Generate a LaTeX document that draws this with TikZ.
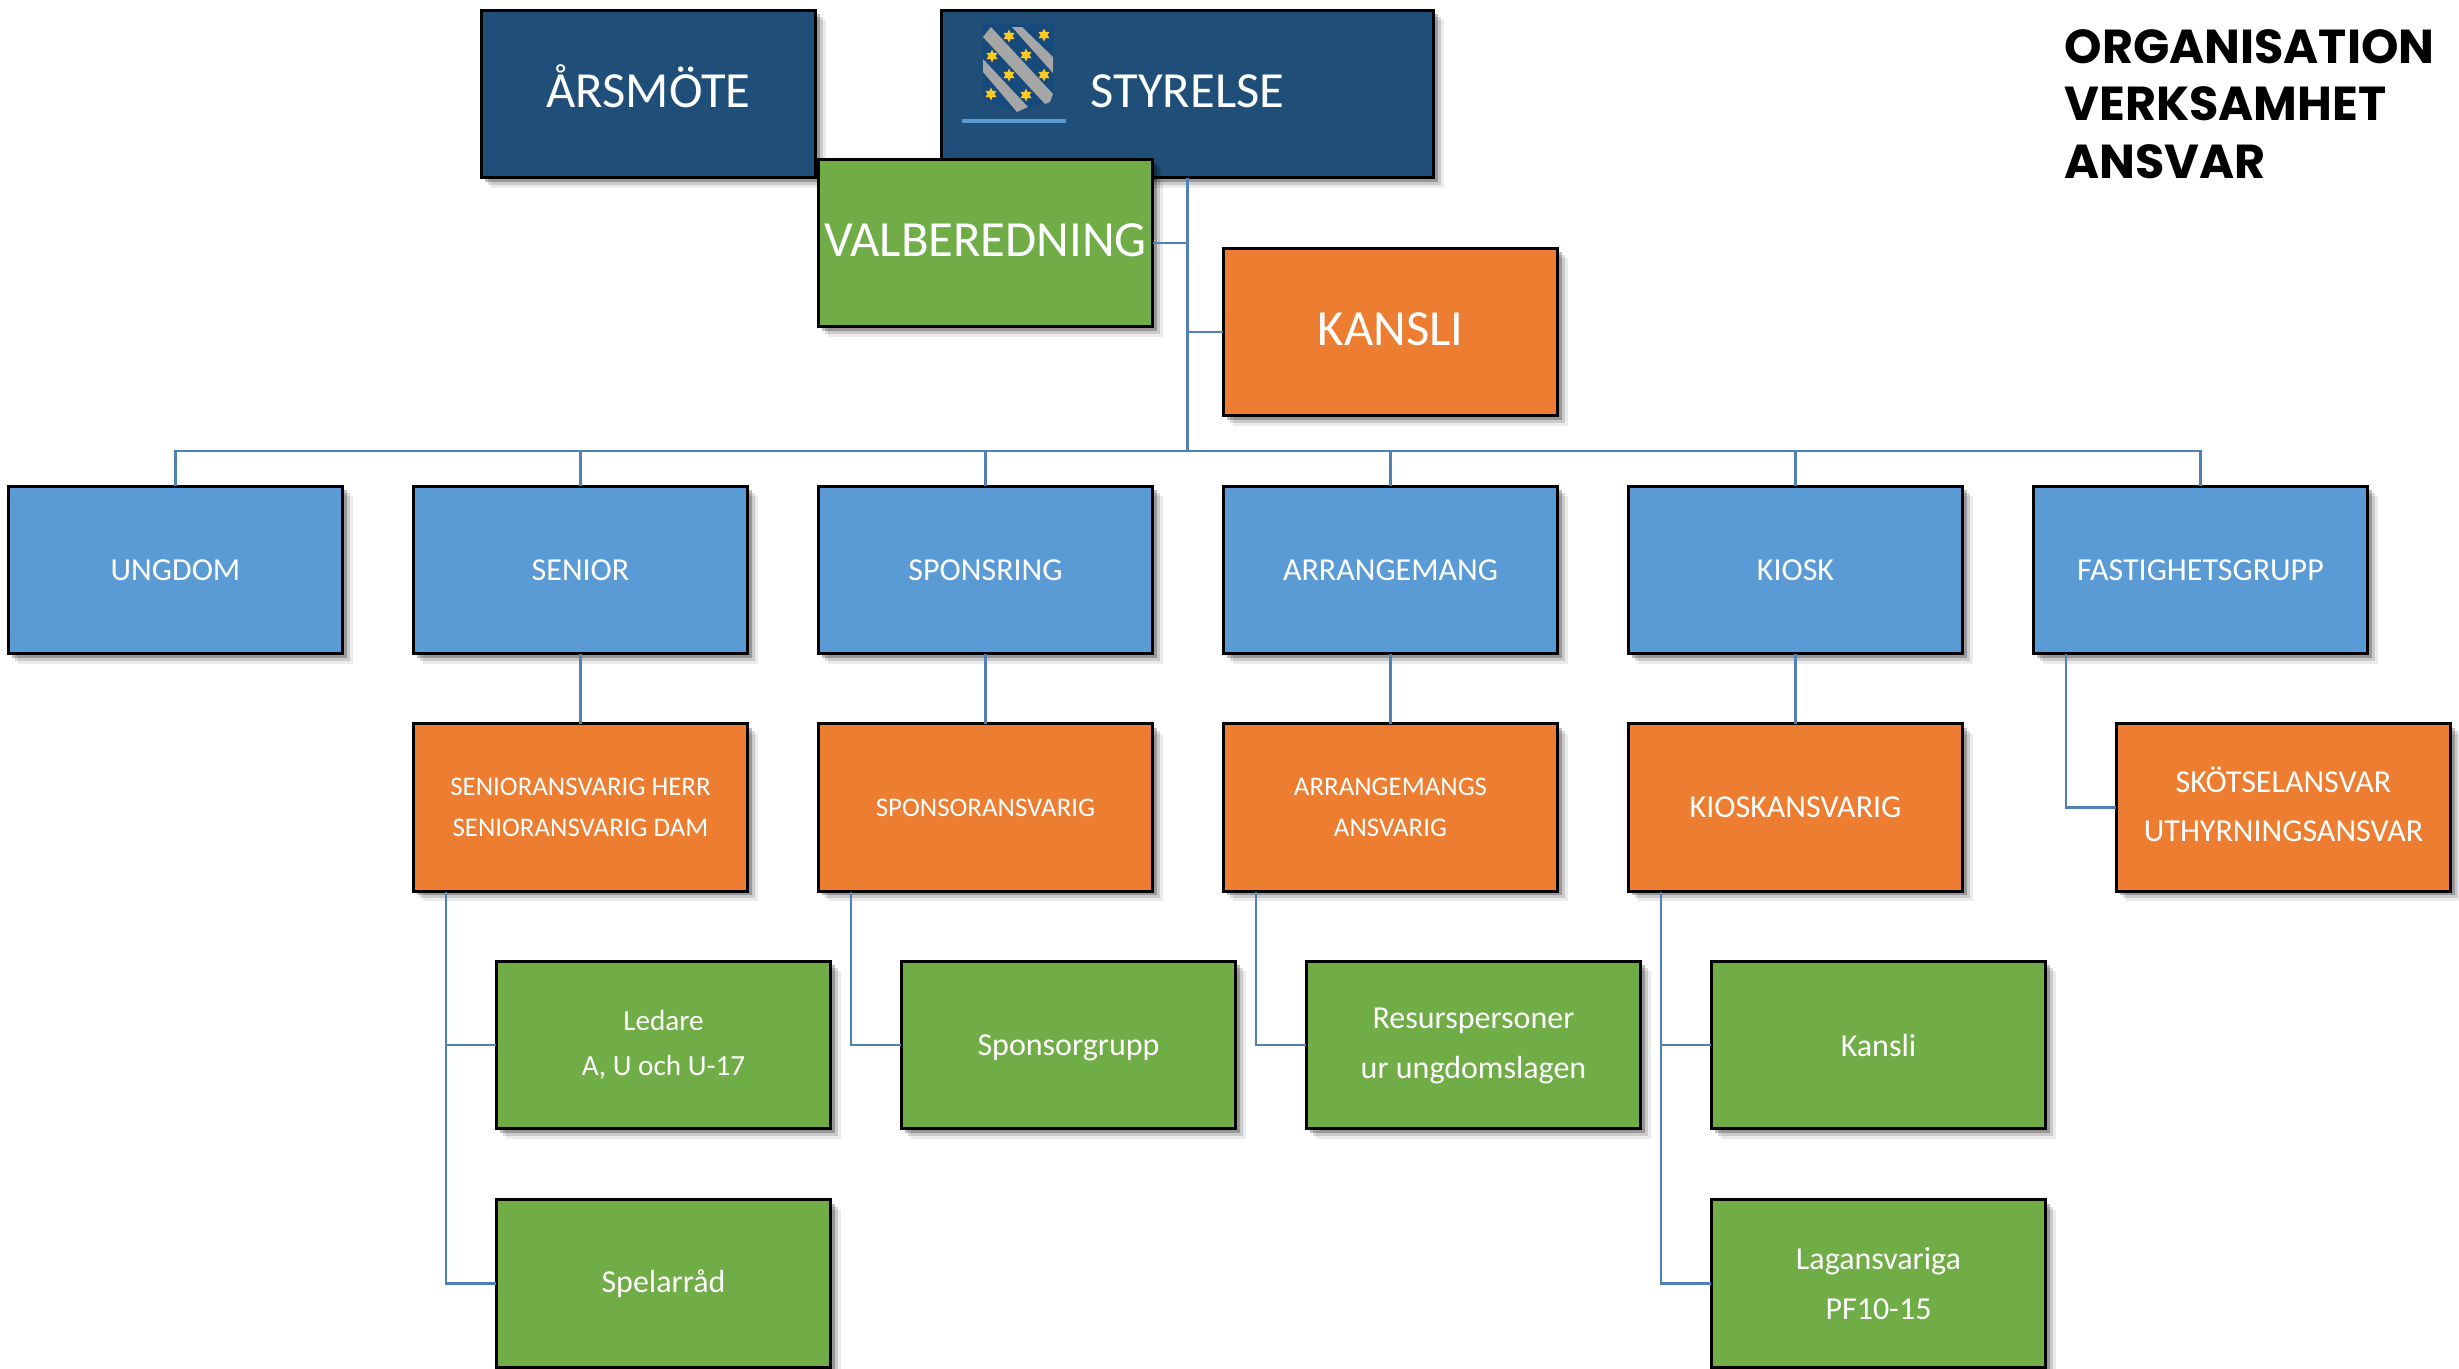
\documentclass[tikz,border=0pt]{standalone}
\usepackage{fontspec}
\setmainfont{Carlito}
\newfontfamily\titlefont{Poppins}
\usetikzlibrary{shadows,shapes.geometric}
\definecolor{navybox}{HTML}{1F4E79}
\definecolor{bluebox}{HTML}{5B9BD5}
\definecolor{orangebox}{HTML}{ED7D31}
\definecolor{greenbox}{HTML}{70AD47}
\definecolor{linkblue}{HTML}{4F81B5}
\definecolor{shieldblue}{HTML}{174A7C}
\definecolor{bandgrey}{HTML}{A6A6A6}
\definecolor{stargold}{HTML}{FFC91F}
\tikzset{
  box/.style={draw=black,line width=0.85pt,text=white,inner sep=0pt,outer sep=0pt,
    minimum width=3.34cm,minimum height=1.67cm,align=center,
    drop shadow={shadow xshift=0.1cm,shadow yshift=-0.1cm,opacity=0.08,fill=black},
    drop shadow={shadow xshift=0.07cm,shadow yshift=-0.07cm,opacity=0.14,fill=black},
    drop shadow={shadow xshift=0.04cm,shadow yshift=-0.04cm,opacity=0.25,fill=black}},
  topbox/.style={box,fill=navybox,text height=0.77em,text depth=0pt,font=\fontsize{14.4}{16}\selectfont},
  unitbox/.style={box,fill=bluebox,font=\fontsize{9.1}{11}\selectfont},
  leadbox/.style={box,fill=orangebox,font=\fontsize{7.65}{11.5}\selectfont},
  teambox/.style={box,fill=greenbox,font=\fontsize{9.1}{14}\selectfont},
  link/.style={draw=linkblue,line width=0.8pt},
  trunk/.style={link,line width=1.1pt},
  goldstar/.style={star,star points=6,star point ratio=1.9,fill=stargold,inner sep=0pt,minimum size=0.13cm},
  titletext/.style={anchor=base west,inner sep=0pt,font=\titlefont\bfseries\fontsize{13.55}{16}\selectfont}
}
\begin{document}
\begin{tikzpicture}[x=0.01cm,y=-0.01cm]
\useasboundingbox (0,0) rectangle (2459,1369);

\node[topbox] (arsmote) at (648.5,94) {ÅRSMÖTE};
\node[topbox,minimum width=4.92cm] (styrelse) at (1187.5,94) {STYRELSE};
\node[topbox,fill=greenbox] (valberedning) at (985.5,243) {VALBEREDNING};
\node[topbox,fill=orangebox] (kansli) at (1390.5,332) {KANSLI};

\fill[shieldblue] (983,24) -- (1054,24) -- (1053,97) .. controls (1040,106) and (1030,106) .. (1017,112) .. controls (1005,106) and (994,106) .. (983,98) -- cycle;
\fill[bandgrey] (991,27) -- (1053,94) -- (1050,102) -- (1045,104) -- (983,37) -- cycle;
\fill[bandgrey] (1012,27) -- (1022,27) -- (1053,57) -- (1053,73) -- cycle;
\fill[bandgrey] (983,59) -- (1028,107) -- (1017,112) -- (983,72) -- cycle;
\node[goldstar] (star1) at (1009,36) {};
\node[goldstar] (star2) at (1044,35) {};
\node[goldstar] (star3) at (992,56) {};
\node[goldstar] (star4) at (1026,55) {};
\node[goldstar] (star5) at (1009,75) {};
\node[goldstar] (star6) at (1044,75) {};
\node[goldstar] (star7) at (991,94) {};
\node[goldstar] (star8) at (1026,95) {};
\fill[bluebox] (962,118.5) rectangle (1066,123);

\node[unitbox] (ungdom) at (175.5,570) {UNGDOM};
\node[unitbox] (senior) at (580.5,570) {SENIOR};
\node[unitbox] (sponsring) at (985.5,570) {SPONSRING};
\node[unitbox] (arrangemang) at (1390.5,570) {ARRANGEMANG};
\node[unitbox] (kiosk) at (1795.5,570) {KIOSK};
\node[unitbox] (fastighet) at (2200.5,570) {FASTIGHETSGRUPP};

\node[leadbox] (seniorlead) at (580.5,807.5) {SENIORANSVARIG HERR\\SENIORANSVARIG DAM};
\node[leadbox] (sponsorlead) at (985.5,807.5) {SPONSORANSVARIG};
\node[leadbox] (arrangelead) at (1390.5,807.5) {ARRANGEMANGS\\ANSVARIG};
\node[leadbox,font=\fontsize{9.1}{11}\selectfont] (kiosklead) at (1795.5,807.5) {KIOSKANSVARIG};
\node[leadbox,font=\fontsize{9.1}{14}\selectfont,text depth=2pt] (skotsel) at (2283.5,807.5) {SKÖTSELANSVAR\\UTHYRNINGSANSVAR};

\node[teambox,font=\fontsize{8.3}{12.8}\selectfont] (ledare) at (663.5,1045) {Ledare\\A, U och U-17};
\node[teambox] (spelarrad) at (663.5,1283.5) {Spelarråd};
\node[teambox,text depth=0pt] (sponsorgrupp) at (1068.5,1045) {Sponsorgrupp};
\node[teambox,text depth=1pt] (resurs) at (1473.5,1045) {Resurspersoner\\ur ungdomslagen};
\node[teambox] (kansliteam) at (1878.5,1045) {Kansli};
\node[teambox] (lagansvar) at (1878.5,1283.5) {Lagansvariga\\PF10-15};

\coordinate (bus) at (1187.5,451);
\coordinate (seniordrop) at (446,892);
\coordinate (sponsordrop) at (851,892);
\coordinate (arrangedrop) at (1256,892);
\coordinate (kioskdrop) at (1661,892);
\coordinate (fastighetdrop) at (2066,654);

\draw[trunk] (styrelse.south) -- (bus);
\draw[link] (valberedning.east) -- (valberedning.east -| bus);
\draw[link] (kansli.west) -- (kansli.west -| bus);
\draw[link] (bus) -| (ungdom.north);
\draw[link] (bus) -| (senior.north);
\draw[link] (bus) -| (sponsring.north);
\draw[link] (bus) -| (arrangemang.north);
\draw[link] (bus) -| (kiosk.north);
\draw[link] (bus) -| (fastighet.north);
\draw[link] (senior) -- (seniorlead);
\draw[link] (sponsring) -- (sponsorlead);
\draw[link] (arrangemang) -- (arrangelead);
\draw[link] (kiosk) -- (kiosklead);
\draw[link] (fastighetdrop) |- (skotsel.west);
\draw[link] (seniordrop) |- (ledare.west);
\draw[link] (seniordrop) |- (spelarrad.west);
\draw[link] (sponsordrop) |- (sponsorgrupp.west);
\draw[link] (arrangedrop) |- (resurs.west);
\draw[link] (kioskdrop) |- (kansliteam.west);
\draw[link] (kioskdrop) |- (lagansvar.west);

\node[titletext] (title1) at (2064,63) {ORGANISATION};
\node[titletext] (title2) at (2064,120) {VERKSAMHET};
\node[titletext] (title3) at (2064,178) {ANSVAR};
\end{tikzpicture}
\end{document}
